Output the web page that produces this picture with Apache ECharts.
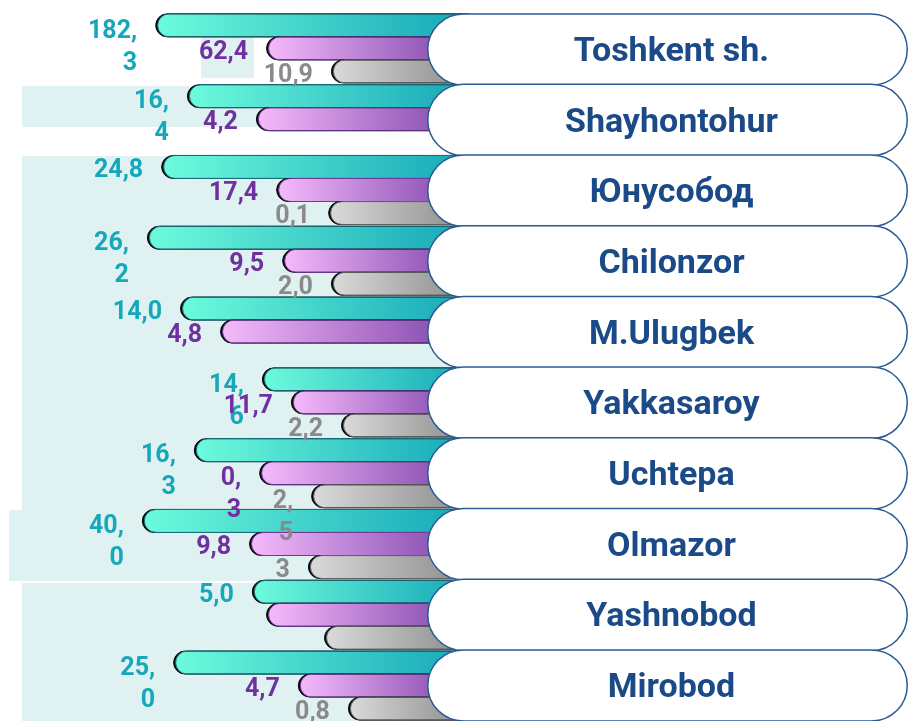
<!DOCTYPE html>
<html>
<head>
<meta charset="utf-8">
<script src="https://cdn.jsdelivr.net/npm/echarts@6/dist/echarts.min.js"></script>
<style>
  html, body { margin: 0; padding: 0; background: #fff; }
  #chart { width: 908px; height: 721px; }
</style>
</head>
<body>
<div id="chart"></div>
<script>
const districts = ["Toshkent sh.", "Shayhontohur", "Юнусобод", "Chilonzor", "M.Ulugbek", "Yakkasaroy", "Uchtepa", "Olmazor", "Yashnobod", "Mirobod"];

// bar lengths as drawn in the picture (not proportional to the printed values)
const tealLen = [68.0, 61.1, 66.7, 69.8, 62.6, 44.8, 59.6, 70.9, 47.0, 64.1];
const purpleLen = [43.9, 46.1, 41.7, 40.4, 53.9, 38.5, 45.4, 47.6, 43.9, 37.0];
const greyLen = [29.8, 0, 30.4, 29.8, 0, 27.6, 34.1, 34.8, 31.3, 26.1];

// printed values
const tealText = ["182,3", "16,4", "24,8", "26,2", "14,0", "14,6", "16,3", "40,0", "5,0", "25,0"];
const purpleText = ["62,4", "4,2", "17,4", "9,5", "4,8", "11,7", "0,3", "9,8", "", "4,7"];
const greyText = ["10,9", "", "0,1", "2,0", "", "2,2", "2,5", "3", "", "0,8"];

// labels that break after the comma in the original text boxes
const tealWrap = [0, 1, 3, 5, 6, 7, 9];
const purpleWrap = [6];
const greyWrap = [6];

const FONT = "Roboto, sans-serif";

const chart = echarts.init(document.getElementById("chart"));

function grad(c0, c1) {
  return new echarts.graphic.LinearGradient(0, 0, 1, 0, [
    { offset: 0, color: c0 },
    { offset: 1, color: c1 }
  ]);
}

function buildData(lens, texts, wrap) {
  return lens.map((v, i) => {
    const wrapped = wrap.indexOf(i) >= 0;
    return {
      value: v,
      label: {
        formatter: wrapped ? texts[i].replace(",", ",\n") : texts[i],
        offset: wrapped ? [0, 22] : [0, 4]
      }
    };
  });
}

function barSeries(name, lens, texts, wrap, c0, c1, border, labelColor) {
  return {
    name: name,
    type: "bar",
    xAxisIndex: 0,
    yAxisIndex: 0,
    barWidth: 24,
    barGap: "-4%",
    data: buildData(lens, texts, wrap),
    itemStyle: {
      color: grad(c0, c1),
      borderColor: border,
      borderWidth: 1,
      borderRadius: [12, 0, 0, 12],
      shadowColor: "rgba(0,0,0,0.95)",
      shadowOffsetX: -2,
      shadowBlur: 0
    },
    label: {
      show: true,
      position: "left",
      distance: 20,
      color: labelColor,
      fontFamily: FONT,
      fontWeight: "bold",
      fontSize: 25,
      lineHeight: 32
    },
    z: 3
  };
}

const option = {
  animation: false,
  graphic: [
    { type: "rect", shape: { x: 22, y: 86, width: 450, height: 41 }, style: { fill: "#e0f1f1" }, z: 0 },
    { type: "rect", shape: { x: 201, y: 33, width: 53, height: 45 }, style: { fill: "#e0f1f1" }, z: 0 },
    { type: "rect", shape: { x: 22, y: 156, width: 450, height: 354 }, style: { fill: "#e0f1f1" }, z: 0 },
    { type: "rect", shape: { x: 9, y: 510, width: 463, height: 71 }, style: { fill: "#e0f1f1" }, z: 0 },
    { type: "rect", shape: { x: 22, y: 583, width: 450, height: 140 }, style: { fill: "#e0f1f1" }, z: 0 }
  ],
  grid: [
    { left: 10, width: 460, top: 13, height: 718 },
    { left: 427, width: 481, top: 14, height: 718 }
  ],
  xAxis: [
    { gridIndex: 0, type: "value", inverse: true, min: 0, max: 100, show: false },
    { gridIndex: 1, type: "value", min: 0, max: 1, show: false }
  ],
  yAxis: [
    { gridIndex: 0, type: "category", inverse: true, data: districts, show: false },
    { gridIndex: 1, type: "category", inverse: true, data: districts, show: false }
  ],
  series: [
    barSeries("teal", tealLen, tealText, tealWrap, "#6dfbdc", "#15a7b8", "#1a7385", "#14a8ba"),
    barSeries("purple", purpleLen, purpleText, purpleWrap, "#f5bafb", "#7b41a8", "#6e3a9a", "#7030a0"),
    barSeries("grey", greyLen, greyText, greyWrap, "#dadada", "#8a8a8a", "#666666", "#8a8a8a"),
    {
      name: "district",
      type: "bar",
      xAxisIndex: 1,
      yAxisIndex: 1,
      barWidth: 73,
      data: districts.map(() => 1),
      itemStyle: {
        color: "#ffffff",
        borderColor: "#2a5b92",
        borderWidth: 1.5,
        borderRadius: 36
      },
      label: {
        show: true,
        position: "inside",
        offset: [4, 3],
        formatter: "{b}",
        color: "#1b4a88",
        fontFamily: FONT,
        fontWeight: "bold",
        fontSize: 34
      },
      z: 5
    }
  ]
};

chart.setOption(option);
window.addEventListener("resize", () => chart.resize());
</script>
</body>
</html>
